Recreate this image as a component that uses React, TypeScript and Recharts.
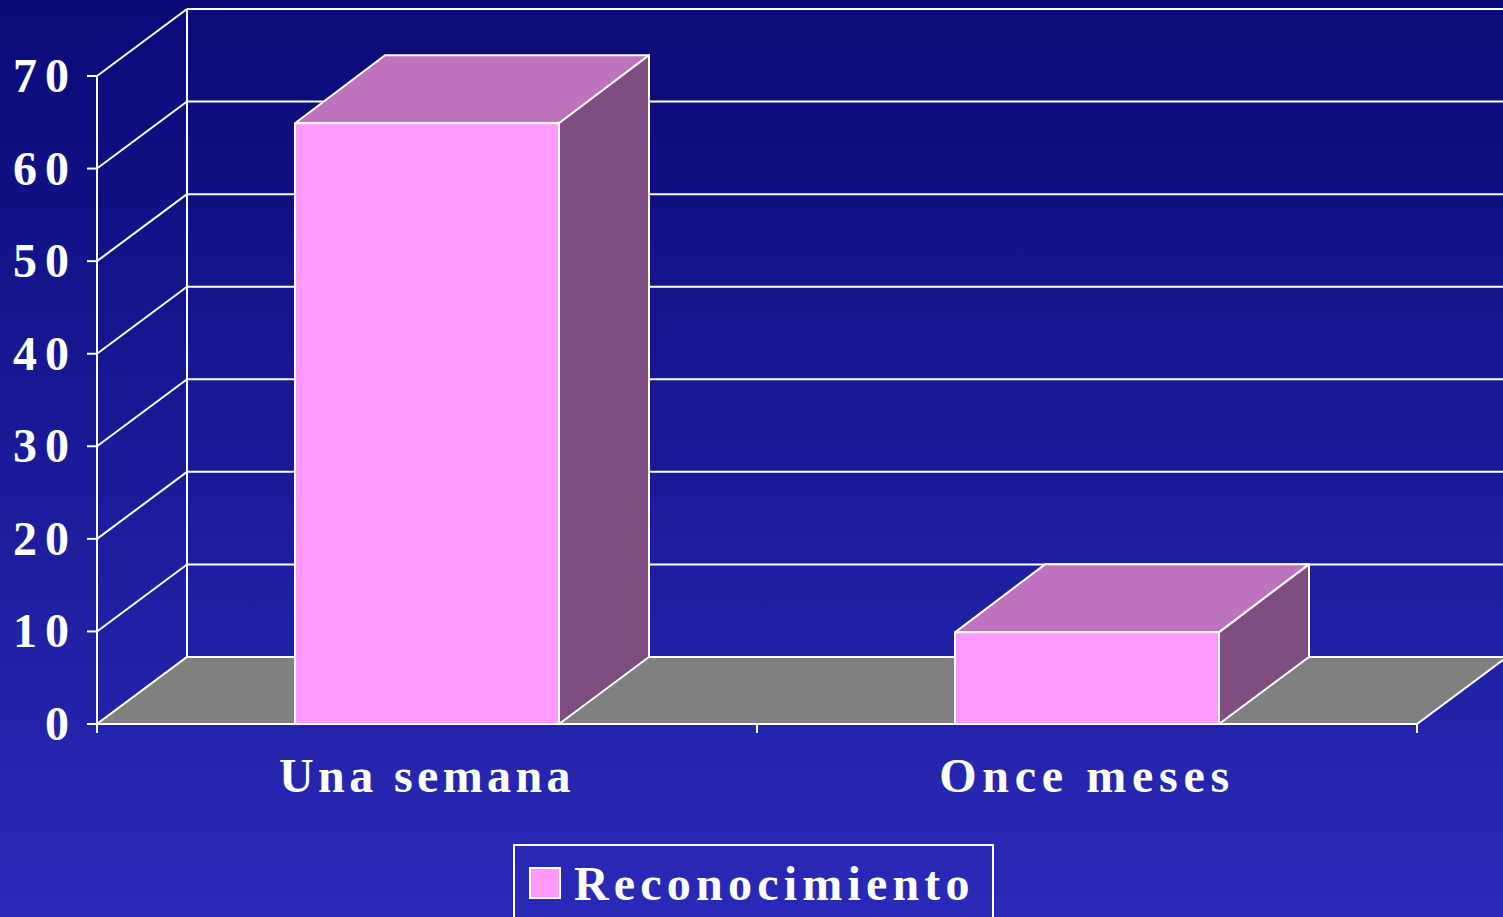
import { Bar, BarChart, CartesianGrid, Legend, ReferenceArea, XAxis, YAxis } from 'recharts';

const categories = ['Una semana', 'Once meses'];
const reconocimiento = [64.9, 9.9];
const seriesName = 'Reconocimiento';
const valueTicks = [0, 10, 20, 30, 40, 50, 60, 70];

const data = categories.map((name, i) => ({ name, value: reconocimiento[i] }));

const WIDTH = 1503;
const HEIGHT = 917;
const DEPTH_X = 90;
const DEPTH_Y = 67;
const BAND = 660;
const FONT = '"Liberation Serif", "Times New Roman", serif';
const WHITE = '#ffffff';
const LABEL_SPACING = [4.4, 5.7];

function Bar3D(props: any) {
  const { x, y, width, height, fill } = props;
  const r = x + width;
  const b = y + height;
  return (
    <g stroke={WHITE} strokeWidth={2} strokeLinejoin="round">
      <polygon
        points={`${x},${y} ${x + DEPTH_X},${y - DEPTH_Y - 1} ${r + DEPTH_X},${y - DEPTH_Y - 1} ${r},${y}`}
        fill="#bf73bf"
      />
      <polygon
        points={`${r},${y} ${r + DEPTH_X},${y - DEPTH_Y - 1} ${r + DEPTH_X},${b - DEPTH_Y} ${r},${b}`}
        fill="#804d80"
      />
      <rect x={x} y={y} width={width} height={height} fill={fill} />
    </g>
  );
}

function Floor(props: any) {
  const { x, y, width, height } = props;
  const b = y + height;
  const r = x + width;
  return (
    <polygon
      points={`${x},${b} ${x + DEPTH_X},${b - DEPTH_Y} ${r + DEPTH_X},${b - DEPTH_Y} ${r},${b}`}
      fill="#808080"
      stroke={WHITE}
      strokeWidth={2}
    />
  );
}

// each grid line runs up the side wall, then along the back wall
function GridLine(props: any) {
  const { x1, x2, y1 } = props;
  return (
    <g stroke={WHITE} strokeWidth={2} fill="none">
      <line x1={x1} y1={y1} x2={x1 + DEPTH_X} y2={y1 - DEPTH_Y} />
      <line x1={x1 + DEPTH_X} y1={y1 - DEPTH_Y} x2={x2 + DEPTH_X} y2={y1 - DEPTH_Y} />
    </g>
  );
}

function BackWallEdge(props: any) {
  const { x, y, height } = props;
  return (
    <line
      x1={x + DEPTH_X}
      y1={y - DEPTH_Y}
      x2={x + DEPTH_X}
      y2={y + height - DEPTH_Y}
      stroke={WHITE}
      strokeWidth={2}
    />
  );
}

function ValueTick(props: any) {
  const { x, y, payload } = props;
  return (
    <text
      x={x - 8}
      y={y + 16}
      textAnchor="end"
      fill={WHITE}
      fontFamily={FONT}
      fontWeight={700}
      fontSize={48}
      letterSpacing={8}
    >
      {payload.value}
    </text>
  );
}

function CategoryTick(props: any) {
  const { x, y, payload, index } = props;
  const left = x - BAND / 2;
  return (
    <g>
      <line x1={left} y1={y - 6} x2={left} y2={y + 3} stroke={WHITE} strokeWidth={2} />
      {index === categories.length - 1 && (
        <line x1={x + BAND / 2} y1={y - 6} x2={x + BAND / 2} y2={y + 3} stroke={WHITE} strokeWidth={2} />
      )}
      <text
        x={x}
        y={y + 62}
        textAnchor="middle"
        fill={WHITE}
        fontFamily={FONT}
        fontWeight={700}
        fontSize={48}
        letterSpacing={LABEL_SPACING[index]}
      >
        {payload.value}
      </text>
    </g>
  );
}

function LegendBox(props: any) {
  const item = props.payload?.[0];
  return (
    <div
      style={{
        boxSizing: 'border-box',
        width: 481,
        height: 93,
        border: '2px solid #fff',
        position: 'relative',
        fontFamily: FONT,
      }}
    >
      <div
        style={{
          position: 'absolute',
          left: 14,
          top: 21,
          width: 28,
          height: 28,
          border: '2px solid #fff',
          background: item?.color,
        }}
      />
      <div
        style={{
          position: 'absolute',
          left: 59,
          top: 10,
          fontSize: 48,
          fontWeight: 700,
          lineHeight: '56px',
          letterSpacing: 5.2,
          color: WHITE,
          whiteSpace: 'nowrap',
        }}
      >
        {item?.value}
      </div>
    </div>
  );
}

export default function App() {
  return (
    <div
      style={{
        position: 'absolute',
        left: 0,
        top: 0,
        width: WIDTH,
        height: HEIGHT,
        overflow: 'hidden',
        background: 'linear-gradient(180deg, #0a0a78 0%, #2a2ab8 100%)',
      }}
    >
      <BarChart
        width={WIDTH}
        height={HEIGHT}
        data={data}
        barCategoryGap="30%"
        margin={{ top: 76, right: 86, bottom: 0, left: 0 }}
      >
        <CartesianGrid vertical={false} horizontal={GridLine} />
        <ReferenceArea y1={0} y2={70} shape={Floor} />
        <ReferenceArea y1={0} y2={70} shape={BackWallEdge} />
        <XAxis
          dataKey="name"
          height={100}
          stroke={WHITE}
          strokeWidth={2}
          tickLine={false}
          interval={0}
          tick={CategoryTick}
          tickMargin={0}
        />
        <YAxis
          width={97}
          domain={[0, 70]}
          ticks={valueTicks}
          interval={0}
          stroke={WHITE}
          strokeWidth={2}
          tick={ValueTick}
          tickSize={10}
          tickLine={{ stroke: WHITE, strokeWidth: 2 }}
        />
        <Bar
          dataKey="value"
          name={seriesName}
          fill="#ff99ff"
          shape={Bar3D}
          isAnimationActive={false}
        />
        <Legend
          height={93}
          content={LegendBox}
          wrapperStyle={{ left: 513, top: 844, bottom: 'auto', width: 481 }}
        />
      </BarChart>
    </div>
  );
}
